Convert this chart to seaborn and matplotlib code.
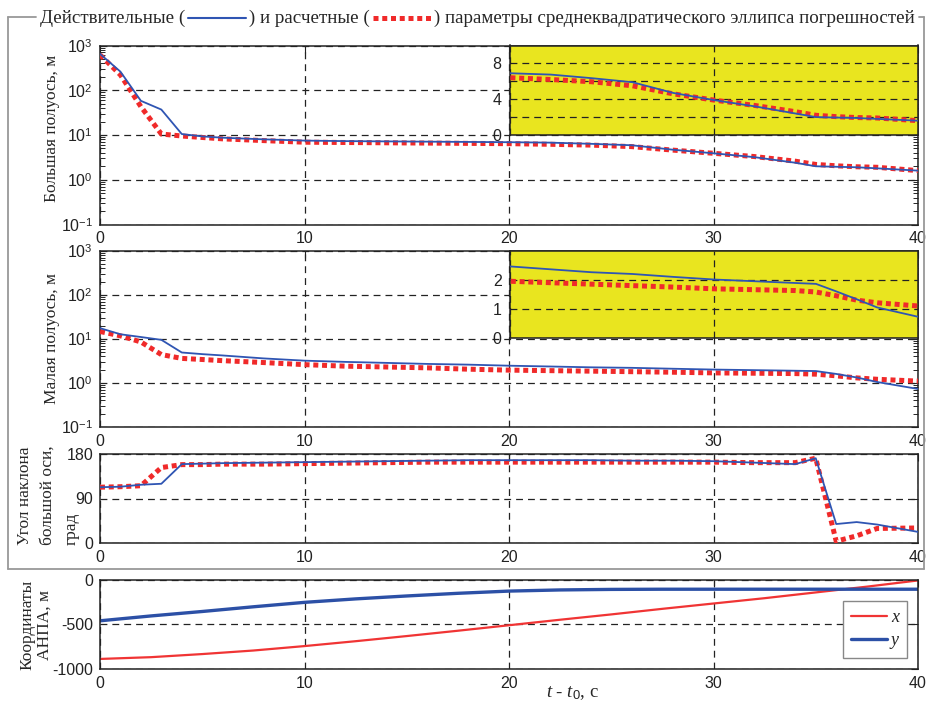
import numpy as np
import pandas as pd
import matplotlib
matplotlib.use("Agg")
import matplotlib.pyplot as plt
import seaborn as sns
from matplotlib.lines import Line2D
from matplotlib.ticker import FixedLocator, NullFormatter

# ---------------- data ----------------
t_est = [0, 1, 2, 3, 4, 5, 6, 8, 10, 12, 14, 16, 18, 20, 22, 24, 26, 28, 30, 32, 34, 35, 36, 37, 38, 40]
major_actual = [650, 260, 58, 37, 10.5, 9.3, 8.7, 8.0, 7.5, 7.3, 7.2, 7.1, 7.0, 6.9, 6.75, 6.35, 5.9, 4.7,
                3.9, 3.2, 2.4, 2.0, 1.95, 1.9, 1.8, 1.6]
major_calc = [620, 220, 43, 10.5, 9.5, 8.8, 8.2, 7.5, 6.9, 6.8, 6.7, 6.6, 6.5, 6.4, 6.2, 5.95, 5.5, 4.6,
              3.9, 3.3, 2.6, 2.2, 2.05, 1.95, 1.9, 1.6]
minor_actual = [17.5, 12.7, 11, 9.5, 4.9, 4.5, 4.2, 3.6, 3.2, 3.0, 2.85, 2.7, 2.6, 2.46, 2.36, 2.26, 2.2, 2.1,
                2.01, 1.95, 1.89, 1.86, 1.6, 1.33, 1.05, 0.73]
minor_calc = [14.7, 11.7, 8.5, 4.4, 3.6, 3.4, 3.2, 2.9, 2.6, 2.4, 2.3, 2.2, 2.05, 1.95, 1.9, 1.85, 1.8, 1.75,
              1.69, 1.66, 1.63, 1.58, 1.45, 1.3, 1.21, 1.1]
angle_actual = [113, 114, 118, 120, 160, 161, 162, 163, 164, 165, 166, 167, 168, 168, 168, 168, 167, 167,
                166, 163, 160, 172, 38, 42, 37, 22]
angle_calc = [113, 114, 116, 153, 159, 159, 160, 160, 161, 162, 163, 164, 164, 164, 164, 164, 164, 164,
              164, 163, 163, 172, 3, 14, 29, 30]

t_coord = [0, 2.5, 5, 7.5, 10, 12.5, 15, 17.5, 20, 22.5, 25, 27.5, 30, 32.5, 35, 37.5, 40]
coord_x = [-890, -870, -835, -795, -745, -690, -632, -572, -510, -448, -388, -325, -265, -205, -140, -75, -5]
coord_y = [-460, -405, -355, -302, -252, -213, -180, -150, -125, -112, -106, -104, -104, -104, -104, -104, -104]

x_ticks = [0, 10, 20, 30, 40]
log_ticks = [0.1, 1, 10, 100, 1000]
log_labels = ["$10^{-1}$", "$10^{0}$", "$10^{1}$", "$10^{2}$", "$10^{3}$"]

df = pd.DataFrame({"t": t_est, "major_actual": major_actual, "major_calc": major_calc,
                   "minor_actual": minor_actual, "minor_calc": minor_calc,
                   "angle_actual": angle_actual, "angle_calc": angle_calc})
dfc = pd.DataFrame({"t": t_coord, "x": coord_x, "y": coord_y})

# ---------------- style ----------------
sns.set_style("white")
plt.rcParams["font.family"] = ["Liberation Sans", "DejaVu Sans"]
plt.rcParams["mathtext.fontset"] = "custom"
plt.rcParams["mathtext.rm"] = "Liberation Sans"
plt.rcParams["mathtext.it"] = "Liberation Serif:italic"
plt.rcParams["axes.unicode_minus"] = False

BLUE = "#2f55b3"
RED = "#f02a2a"
YELLOW = "#e9e51f"
GRID = dict(color="#222222", lw=0.9, ls=(0, (5.5, 4.0)))
DOT = (0, (1.0, 0.75))
SERIF = "Liberation Serif"
TICK_FS = 11.5
LAB_FS = 12.5

W, H = 930, 707
fig = plt.figure(figsize=(W / 100, H / 100), dpi=100)


def fx(px):
    return px / W


def fy(py):
    return 1 - py / H


def rect(l, t, r, b):
    return [fx(l), fy(b), fx(r) - fx(l), fy(t) - fy(b)]


def style(ax):
    for s in ax.spines.values():
        s.set_linewidth(1.1)
        s.set_color("#222222")
    ax.tick_params(direction="in", top=True, right=True, labelsize=TICK_FS, colors="#222222",
                   length=5, width=0.8, pad=5)


def main_panel(ax, ya, yc, log=True):
    sns.lineplot(data=df, x="t", y=ya, ax=ax, color=BLUE, lw=1.3, zorder=4)
    sns.lineplot(data=df, x="t", y=yc, ax=ax, color=RED, lw=3.6, ls=DOT, zorder=3)
    ax.set_xlim(0, 40)
    ax.set_xticks(x_ticks)
    ax.set_xlabel("")
    ax.set_ylabel("")
    if log:
        ax.set_yscale("log")
        ax.set_ylim(0.1, 1000)
        ax.yaxis.set_major_locator(FixedLocator(log_ticks))
        ax.set_yticklabels(log_labels)
        minors = [m * 10.0 ** e for e in range(-1, 3) for m in range(2, 10)]
        ax.yaxis.set_minor_locator(FixedLocator(minors))
        ax.yaxis.set_minor_formatter(NullFormatter())
        ax.tick_params(which="minor", direction="in", left=True, right=True, length=3.5, width=0.7)
    ax.grid(True, which="major", **GRID)
    style(ax)


def inset(rect_, ya, yc, ymax, ticks, labels):
    ax = fig.add_axes(rect_, zorder=5)
    ax.set_facecolor(YELLOW)
    sns.lineplot(data=df, x="t", y=ya, ax=ax, color=BLUE, lw=1.3, zorder=4)
    sns.lineplot(data=df, x="t", y=yc, ax=ax, color=RED, lw=3.6, ls=DOT, zorder=3)
    ax.set_xlim(20, 40)
    ax.set_ylim(0, ymax)
    ax.set_xticks([20, 30, 40])
    ax.set_xticklabels([])
    ax.set_yticks(ticks)
    ax.set_yticklabels(labels)
    ax.set_xlabel("")
    ax.set_ylabel("")
    ax.grid(True, **GRID)
    style(ax)
    ax.tick_params(length=0, top=False, right=False, pad=6)
    return ax


# panel 1: major semi-axis
ax1 = fig.add_axes(rect(100, 45.5, 918, 224.5))
main_panel(ax1, "major_actual", "major_calc")
inset(rect(510, 45.5, 918, 135), "major_actual", "major_calc", 10, [0, 2, 4, 6, 8],
      ["0", "", "4", "", "8"])

# panel 2: minor semi-axis
ax2 = fig.add_axes(rect(100, 250.7, 918, 427))
main_panel(ax2, "minor_actual", "minor_calc")
inset(rect(510, 250.7, 918, 338), "minor_actual", "minor_calc", 3, [0, 1, 2], ["0", "1", "2"])

# panel 3: angle
ax3 = fig.add_axes(rect(100, 454.3, 918, 542.7))
main_panel(ax3, "angle_actual", "angle_calc", log=False)
ax3.set_ylim(0, 180)
ax3.set_yticks([0, 90, 180])

# panel 4: coordinates
ax4 = fig.add_axes(rect(100, 580, 918, 668.7))
sns.lineplot(data=dfc, x="t", y="x", ax=ax4, color="#f03434", lw=1.6, label="x")
sns.lineplot(data=dfc, x="t", y="y", ax=ax4, color="#2c50a6", lw=2.4, label="y")
ax4.set_xlim(0, 40)
ax4.set_ylim(-1000, 0)
ax4.set_xticks(x_ticks)
ax4.set_yticks([-1000, -500, 0])
ax4.set_xlabel("")
ax4.set_ylabel("")
ax4.grid(True, **GRID)
style(ax4)
leg = ax4.legend(loc="upper right", bbox_to_anchor=((907 - 100) / 818, (668.7 - 601) / 88.7),
                 prop={"family": SERIF, "style": "italic", "size": 13}, frameon=True, fancybox=False,
                 framealpha=1, edgecolor="#888888", handlelength=2.0, handletextpad=0.2,
                 borderpad=0.45, labelspacing=0.35, borderaxespad=0)
leg.get_frame().set_linewidth(1.0)

# y labels
fig.text(fx(52), fy(128), "Большая полуось, м", rotation=90, ha="center", va="center",
         family=SERIF, fontsize=LAB_FS)
fig.text(fx(52), fy(338), "Малая полуось, м", rotation=90, ha="center", va="center",
         family=SERIF, fontsize=LAB_FS)
for lx, line in zip([25, 48, 72], ["Угол наклона", "большой оси,", "град"]):
    fig.text(fx(lx), fy(545), line, rotation=90, ha="center", va="bottom",
             family=SERIF, fontsize=LAB_FS)
fig.text(fx(36), fy(625), "Координаты\nАНПА, м", rotation=90, ha="center", va="center",
         family=SERIF, fontsize=LAB_FS, multialignment="center", linespacing=1.1)

# x label
fig.text(fx(572), fy(697), r"$t$ - $t_0$, с", ha="center", va="baseline", family=SERIF, fontsize=13.5)

# ---------------- frame with title ----------------
FRAME = "#999999"
FL, FT, FR, FB = 7.5, 17, 924, 569
fig.add_artist(Line2D([fx(FL), fx(FL)], [fy(FT), fy(FB)], color=FRAME, lw=1.3))
fig.add_artist(Line2D([fx(FR), fx(FR)], [fy(FT), fy(FB)], color=FRAME, lw=1.3))
fig.add_artist(Line2D([fx(FL), fx(FR)], [fy(FB), fy(FB)], color=FRAME, lw=1.3))
fig.add_artist(Line2D([fx(FL), fx(36)], [fy(FT), fy(FT)], color=FRAME, lw=1.3))

fig.canvas.draw()
renderer = fig.canvas.get_renderer()

pieces = [("text", "Действительные ("), ("blue", None), ("text", ") и расчетные ("), ("red", None),
          ("text", ") параметры среднеквадратического эллипса погрешностей")]
SAMPLE = 58
GAP = 3


def measure(size):
    total = 0
    for kind, val in pieces:
        if kind == "text":
            t = fig.text(0, 0, val, fontsize=size, family=SERIF)
            total += t.get_window_extent(renderer).width
            t.remove()
    return total


target = (914 - 40) - 2 * (SAMPLE + 2 * GAP)
size = 12.0 * target / measure(12.0)

x = 40.0
base_y = 23
for kind, val in pieces:
    if kind == "text":
        t = fig.text(fx(x), fy(base_y), val, fontsize=size, family=SERIF, va="baseline", ha="left")
        x += t.get_window_extent(renderer).width
    else:
        x0 = x + GAP
        x1 = x0 + SAMPLE
        yl = fy(base_y - 5.5)
        if kind == "blue":
            fig.add_artist(Line2D([fx(x0), fx(x1)], [yl, yl], color=BLUE, lw=1.5))
        else:
            fig.add_artist(Line2D([fx(x0), fx(x1)], [yl, yl], color=RED, lw=3.6, ls=DOT))
        x = x1 + GAP
fig.add_artist(Line2D([fx(x + 4), fx(FR)], [fy(FT), fy(FT)], color=FRAME, lw=1.3))

fig.savefig("out.png", dpi=100)
